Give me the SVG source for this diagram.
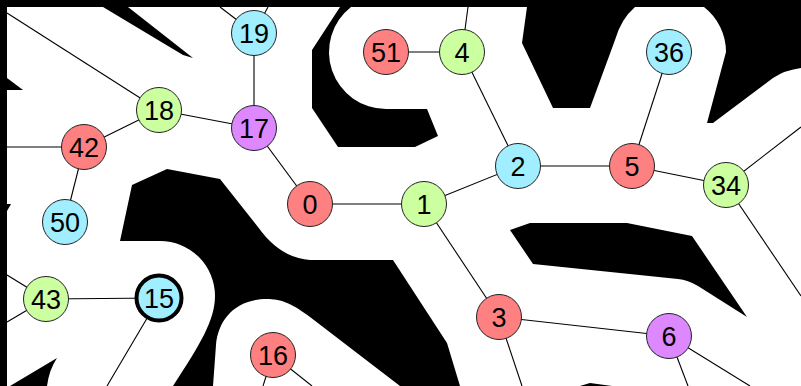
<svg xmlns="http://www.w3.org/2000/svg" width="801" height="386" viewBox="0 0 801 386">
<style>
.bg{fill:#000;stroke:none}
.e{stroke:#000;stroke-width:1.1;fill:none}
.n circle{stroke:#222;stroke-width:1}
.n text{font-family:"Liberation Sans",Arial,sans-serif;font-size:27px;fill:#000;text-anchor:middle}
.r circle{fill:#ff8080}
.g circle{fill:#ccffa0}
.b circle{fill:#a0eeff}
.p circle{fill:#dd88ff}
</style>
<rect width="801" height="386" fill="#fff"/>
<g id="background">
<rect class="bg" x="0" y="0" width="801" height="7"/>
<rect class="bg" x="0" y="0" width="7" height="386"/>
<path class="bg" d="M103,7 L128,7 L193,58 L183,55 Z"/>
<path class="bg" d="M7,78 L23,90 L7,90 Z"/>
<path class="bg" d="M7,204 L11,204 L7,211 Z"/>
<path class="bg" d="M10,386 L57,358 Q49,370 47,386 Z"/>
<path class="bg" d="M340,7 L312,50 L312,108 L338,147 L415,147 L438,136 L427,109 L386,109 A57,57 0 0 1 351,7 Z"/>
<path class="bg" d="M527,7 L522,43 L553,108 L590,108 L615,40 Q621,19 635,7 Z"/>
<path class="bg" d="M704,7 A57,57 0 0 1 726,52 L707,123 L713,123 L773,78 Q785,70 801,68 L801,7 Z"/>
<path class="bg" d="M132,185 L167,169 L220,179 L258,227 Q280,258 310,260 L393,260 L447,343 L460,386 L400,386 L310,317 C290,302 280,299 267,299 C235,299 218,320 216,345 L213,386 L173,386 C200,345 215,320 215,296 A55,55 0 0 0 160,241 L120,241 Z"/>
<path class="bg" d="M510,230 L530,223 L627,223 L692,236 L747,317 L698,286 Q688,280 678,279 L533,264 Z"/>
<path class="bg" d="M580,386 L590,383 L612,386 Z"/>
</g>
<g id="connectors">
<line class="e" x1="254" y1="33" x2="220" y2="7"/>
<line class="e" x1="254" y1="33" x2="268" y2="7"/>
<line class="e" x1="159" y1="110" x2="7" y2="13"/>
<line class="e" x1="159" y1="110" x2="254" y2="128"/>
<line class="e" x1="159" y1="110" x2="84" y2="147"/>
<line class="e" x1="254" y1="33" x2="254" y2="128"/>
<line class="e" x1="254" y1="128" x2="310" y2="204"/>
<line class="e" x1="84" y1="147" x2="7" y2="147"/>
<line class="e" x1="84" y1="147" x2="65" y2="222"/>
<line class="e" x1="386" y1="52" x2="462" y2="52"/>
<line class="e" x1="462" y1="52" x2="468" y2="7"/>
<line class="e" x1="462" y1="52" x2="518" y2="166"/>
<line class="e" x1="518" y1="166" x2="632" y2="166"/>
<line class="e" x1="518" y1="166" x2="424" y2="204"/>
<line class="e" x1="632" y1="166" x2="669" y2="52"/>
<line class="e" x1="632" y1="166" x2="726" y2="185"/>
<line class="e" x1="726" y1="185" x2="801" y2="127"/>
<line class="e" x1="726" y1="185" x2="801" y2="296"/>
<line class="e" x1="310" y1="204" x2="424" y2="204"/>
<line class="e" x1="424" y1="204" x2="499" y2="317"/>
<line class="e" x1="499" y1="317" x2="669" y2="336"/>
<line class="e" x1="499" y1="317" x2="522" y2="386"/>
<line class="e" x1="669" y1="336" x2="688" y2="386"/>
<line class="e" x1="669" y1="336" x2="750" y2="386"/>
<line class="e" x1="46" y1="299" x2="159" y2="298"/>
<line class="e" x1="46" y1="299" x2="7" y2="275"/>
<line class="e" x1="46" y1="299" x2="7" y2="322"/>
<line class="e" x1="159" y1="298" x2="107" y2="386"/>
<line class="e" x1="273" y1="355" x2="263" y2="386"/>
<line class="e" x1="273" y1="355" x2="312" y2="386"/>
</g>
<g id="node19" class="n b"><circle cx="254" cy="33" r="22.5"/><text x="254" y="42.7">19</text></g>
<g id="node51" class="n r"><circle cx="386" cy="52" r="22.5"/><text x="386" y="61.7">51</text></g>
<g id="node4" class="n g"><circle cx="462" cy="52" r="22.5"/><text x="462" y="61.7">4</text></g>
<g id="node36" class="n b"><circle cx="669" cy="52" r="22.5"/><text x="669" y="61.7">36</text></g>
<g id="node18" class="n g"><circle cx="159" cy="110" r="22.5"/><text x="159" y="119.7">18</text></g>
<g id="node17" class="n p"><circle cx="254" cy="128" r="22.5"/><text x="254" y="137.7">17</text></g>
<g id="node42" class="n r"><circle cx="84" cy="147" r="22.5"/><text x="84" y="156.7">42</text></g>
<g id="node2" class="n b"><circle cx="518" cy="166" r="22.5"/><text x="518" y="175.7">2</text></g>
<g id="node5" class="n r"><circle cx="632" cy="166" r="22.5"/><text x="632" y="175.7">5</text></g>
<g id="node34" class="n g"><circle cx="726" cy="185" r="22.5"/><text x="726" y="194.7">34</text></g>
<g id="node0" class="n r"><circle cx="310" cy="204" r="22.5"/><text x="310" y="213.7">0</text></g>
<g id="node1" class="n g"><circle cx="424" cy="204" r="22.5"/><text x="424" y="213.7">1</text></g>
<g id="node50" class="n b"><circle cx="65" cy="222" r="22.5"/><text x="65" y="231.7">50</text></g>
<g id="node43" class="n g"><circle cx="46" cy="299" r="22.5"/><text x="46" y="308.7">43</text></g>
<g id="node15" class="n b"><circle cx="159" cy="298" r="22.5" style="stroke:#000;stroke-width:4"/><text x="159" y="307.7">15</text></g>
<g id="node3" class="n r"><circle cx="499" cy="317" r="22.5"/><text x="499" y="326.7">3</text></g>
<g id="node6" class="n p"><circle cx="669" cy="336" r="22.5"/><text x="669" y="345.7">6</text></g>
<g id="node16" class="n r"><circle cx="273" cy="355" r="22.5"/><text x="273" y="364.7">16</text></g>
</svg>
